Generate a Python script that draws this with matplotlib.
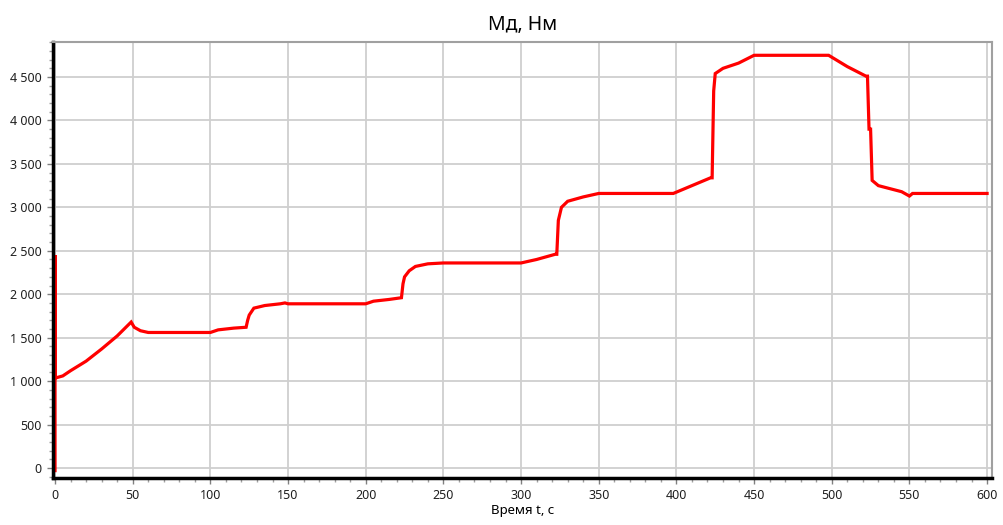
import numpy as np
import matplotlib.pyplot as plt
from matplotlib.ticker import MultipleLocator, FuncFormatter

plt.rcParams['font.family'] = ['Noto Sans', 'DejaVu Sans']

# time, s and torque Md, Nm
t = [0, 0, 0, 1, 5, 10, 20, 30, 40, 49, 51, 55, 60, 100, 105, 115, 123,
     124, 125, 128, 135, 145, 148, 150, 200, 205, 215, 223, 224, 225, 228,
     232, 240, 250, 300, 310, 322, 323, 324, 326, 330, 340, 350, 398, 410,
     422, 423, 424, 425, 430, 440, 450, 498, 510, 522, 523, 524, 525, 526,
     530, 545, 550, 552, 600]
md = [-30, 2450, 1040, 1040, 1060, 1120, 1230, 1370, 1520, 1680, 1620,
      1580, 1560, 1560, 1590, 1610, 1620, 1700, 1760, 1840, 1870, 1890,
      1900, 1890, 1890, 1920, 1940, 1960, 2120, 2200, 2270, 2320, 2350,
      2360, 2360, 2400, 2460, 2460, 2850, 3000, 3070, 3120, 3160, 3160,
      3250, 3340, 3340, 4340, 4540, 4600, 4660, 4750, 4750, 4620, 4510,
      4510, 3900, 3900, 3310, 3250, 3180, 3130, 3160, 3160]

title = "Мд, Нм"
xlabel = "Время t, с"

fig = plt.figure(figsize=(10.04, 5.25), dpi=100)
ax = fig.add_axes([0.0528, 0.0895, 0.935, 0.830])

ax.plot(t, md, color="#ff0000", lw=2.3, solid_joinstyle="miter")

ax.set_xlim(-1.3, 603)
ax.set_ylim(-115, 4900)
ax.xaxis.set_major_locator(MultipleLocator(50))
ax.xaxis.set_minor_locator(MultipleLocator(10))
ax.yaxis.set_major_locator(MultipleLocator(500))
ax.yaxis.set_minor_locator(MultipleLocator(100))
ax.yaxis.set_major_formatter(FuncFormatter(lambda v, p: f"{int(v):,}".replace(",", " ")))

ax.grid(True, which="major", color="#cfcfcf", lw=1.3)
ax.set_axisbelow(True)

for s in ["top", "right"]:
    ax.spines[s].set_color("#a0a0a0")
    ax.spines[s].set_linewidth(1.5)
for s in ["left", "bottom"]:
    ax.spines[s].set_color("black")
    ax.spines[s].set_linewidth(2.5)

ax.tick_params(which="major", length=4, width=1, color="#808080", labelsize=9,
               labelcolor="#202020", pad=4)
ax.tick_params(which="minor", length=3, width=1, color="#a0a0a0")

ax.set_title(title, fontsize=14, pad=9)
ax.set_xlabel(xlabel, fontsize=9.5, labelpad=1)

fig.savefig("out.png", dpi=100)
